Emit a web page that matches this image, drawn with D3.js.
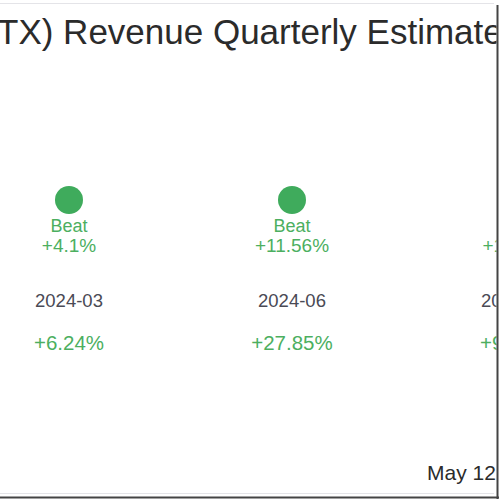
<!DOCTYPE html>
<html>
<head>
<meta charset="utf-8">
<script src="https://cdn.jsdelivr.net/npm/d3@7"></script>
<style>
  body { margin: 0; background: #fff; }
  svg { display: block; font-family: "Liberation Sans", Arial, sans-serif; }
</style>
</head>
<body>
<div id="chart"></div>
<script>
var quarters = ["2024-03", "2024-06", "2024-09"];
var results = ["Beat", "Beat", "Beat"];
var surprise = [4.1, 11.56, 1.67];
var growth = [6.24, 27.85, 9.52];
var title = "TX) Revenue Quarterly Estimates";
var footer = "May 12, 2025";

var width = 500,
    height = 500;

var green = "#3fab5c",
    textGreen = "#4caf5f";

var x = d3.scalePoint()
    .domain(quarters)
    .range([69, 515]);

var svg = d3.select("#chart").append("svg")
    .attr("width", width)
    .attr("height", height);

// content is cut at the card's right edge
svg.append("clipPath").attr("id", "card")
  .append("rect").attr("x", -10).attr("y", 0).attr("width", 506.5).attr("height", 496);

var card = svg.append("g").attr("clip-path", "url(#card)");

// frame lines of the card
card.append("line").attr("x1", 0).attr("x2", 494).attr("y1", 3.5).attr("y2", 3.5)
    .attr("stroke", "#e4e4e8");
card.append("line").attr("x1", 0).attr("x2", 494).attr("y1", 493.5).attr("y2", 493.5)
    .attr("stroke", "#e4e4e8");
svg.append("line").attr("x1", 497.5).attr("x2", 497.5).attr("y1", 5).attr("y2", 499)
    .attr("stroke", "#444").attr("stroke-width", 2);
svg.append("line").attr("x1", 0).attr("x2", 499).attr("y1", 497.5).attr("y2", 497.5)
    .attr("stroke", "#444").attr("stroke-width", 2);

card.append("text")
    .attr("x", -3)
    .attr("y", 44)
    .attr("font-size", 35)
    .attr("fill", "#2b2b2b")
    .text(title);

var data = quarters.map(function(q, i) {
  return { quarter: q, result: results[i], surprise: surprise[i], growth: growth[i] };
});

var col = card.selectAll(".col").data(data)
  .enter().append("g")
    .attr("class", "col")
    .attr("transform", function(d) { return "translate(" + x(d.quarter) + ",0)"; });

col.append("circle")
    .attr("cy", 200)
    .attr("r", 14)
    .attr("fill", green);

col.append("text")
    .attr("y", 232)
    .attr("text-anchor", "middle")
    .attr("font-size", 18)
    .attr("fill", textGreen)
    .text(function(d) { return d.result; });

col.append("text")
    .attr("y", 252)
    .attr("text-anchor", "middle")
    .attr("font-size", 19)
    .attr("fill", textGreen)
    .text(function(d) { return (d.surprise >= 0 ? "+" : "") + d.surprise + "%"; });

col.append("text")
    .attr("y", 307)
    .attr("text-anchor", "middle")
    .attr("font-size", 18.5)
    .attr("fill", "#4a4a55")
    .text(function(d) { return d.quarter; });

col.append("text")
    .attr("y", 350)
    .attr("text-anchor", "middle")
    .attr("font-size", 20.5)
    .attr("fill", textGreen)
    .text(function(d) { return (d.growth >= 0 ? "+" : "") + d.growth + "%"; });

card.append("text")
    .attr("x", 427)
    .attr("y", 480)
    .attr("font-size", 21)
    .attr("fill", "#2b2b2b")
    .text(footer);
</script>
</body>
</html>
